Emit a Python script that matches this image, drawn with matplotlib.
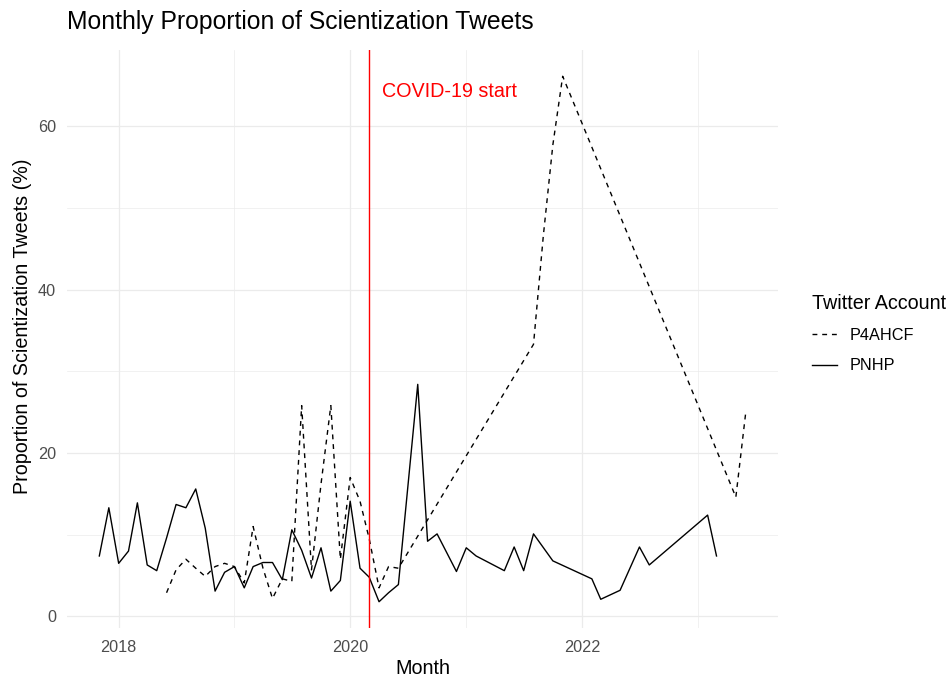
import numpy as np
import pandas as pd
import matplotlib
matplotlib.use("Agg")
import matplotlib.pyplot as plt
import matplotlib.dates as mdates

plt.rcParams['font.family'] = ['Liberation Sans', 'DejaVu Sans']

# monthly proportions
pnhp_months = ["2017-11", "2017-12", "2018-01", "2018-02", "2018-03", "2018-04",
               "2018-05", "2018-06", "2018-07", "2018-08", "2018-09", "2018-10",
               "2018-11", "2018-12", "2019-01", "2019-02", "2019-03", "2019-04",
               "2019-05", "2019-06", "2019-07", "2019-08", "2019-09", "2019-10",
               "2019-11", "2019-12", "2020-01", "2020-02", "2020-03", "2020-04",
               "2020-05", "2020-06", "2020-08", "2020-09", "2020-10", "2020-12",
               "2021-01", "2021-02", "2021-05", "2021-06", "2021-07", "2021-08",
               "2021-10", "2022-02", "2022-03", "2022-05", "2022-07", "2022-08",
               "2023-02", "2023-03"]
pnhp_values = [7.4, 13.3, 6.5, 8.0, 13.9, 6.3,
               5.6, 9.6, 13.7, 13.3, 15.6, 10.8,
               3.1, 5.4, 6.1, 3.5, 6.1, 6.6,
               6.6, 4.5, 10.6, 8.1, 4.7, 8.4,
               3.1, 4.4, 14.1, 5.9, 4.8, 1.8,
               2.9, 3.9, 28.4, 9.2, 10.1, 5.5,
               8.4, 7.4, 5.6, 8.5, 5.6, 10.1,
               6.8, 4.6, 2.1, 3.2, 8.5, 6.3,
               12.4, 7.4]

p4_months = ["2018-06", "2018-07", "2018-08", "2018-09", "2018-10", "2018-11",
             "2018-12", "2019-01", "2019-02", "2019-03", "2019-04", "2019-05",
             "2019-06", "2019-07", "2019-08", "2019-09", "2019-10", "2019-11",
             "2019-12", "2020-01", "2020-02", "2020-03", "2020-04", "2020-05",
             "2020-06", "2021-08", "2021-09", "2021-10", "2021-11", "2023-05",
             "2023-06"]
p4_values = [2.9, 5.7, 7.0, 5.9, 4.9, 6.1,
             6.5, 6.1, 4.1, 11.0, 5.9, 2.2,
             4.6, 4.3, 25.8, 5.7, 16.2, 25.8,
             7.0, 17.0, 14.1, 9.5, 3.5, 6.1,
             5.9, 33.3, 46.6, 57.7, 66.1, 14.6,
             24.9]

covid_start = "2020-03-01"
major_years = ["2018-01-01", "2020-01-01", "2022-01-01"]
minor_years = ["2019-01-01", "2021-01-01", "2023-01-01"]
y_major = [0, 20, 40, 60]
y_minor = [10, 30, 50]

pnhp_x = pd.to_datetime(pnhp_months)
p4_x = pd.to_datetime(p4_months)

W, H = 948, 677
fig = plt.figure(figsize=(W / 100, H / 100), dpi=100)
ax = fig.add_axes([67/W, 1 - 628/H, 711/W, 578/H])

ax.plot(p4_x, p4_values, color='black', lw=1.0, linestyle=(0, (3.5, 3.5)), label='P4AHCF')
ax.plot(pnhp_x, pnhp_values, color='black', lw=1.0, label='PNHP')
ax.axvline(pd.Timestamp(covid_start), color='red', lw=1.0)
ax.text(pd.Timestamp(covid_start) + pd.Timedelta(days=40), 64.2, "COVID-19 start",
        color='red', fontsize=14.2, ha='left', va='center')

# ggplot-like expansion (5% x, 5% y)
all_x = mdates.date2num(list(pnhp_x) + list(p4_x))
xr = all_x.max() - all_x.min()
ax.set_xlim(all_x.min() - 0.05 * xr, all_x.max() + 0.05 * xr)
all_y = np.array(pnhp_values + p4_values)
yr = all_y.max() - all_y.min()
ax.set_ylim(all_y.min() - 0.05 * yr, all_y.max() + 0.05 * yr)

ax.set_xticks(mdates.date2num(pd.to_datetime(major_years)))
ax.set_xticklabels([s[:4] for s in major_years])
ax.set_xticks(mdates.date2num(pd.to_datetime(minor_years)), minor=True)
ax.set_yticks(y_major)
ax.set_yticks(y_minor, minor=True)

ax.grid(which='major', color='#EBEBEB', lw=0.9)
ax.grid(which='minor', color='#EBEBEB', lw=0.5)
ax.set_axisbelow(True)
for s in ax.spines.values():
    s.set_visible(False)
ax.tick_params(which='both', length=0, labelsize=11.7, labelcolor='#4D4D4D')
ax.tick_params(axis='x', pad=9)
ax.tick_params(axis='y', pad=8)

fig.text(422.5/W, 1 - 668/H, "Month", fontsize=14.2, ha='center', va='center')
fig.text(23/W, 1 - 326/H, "Proportion of Scientization Tweets (%)", fontsize=14.2,
         ha='center', va='center', rotation=90)
fig.text(67/W, 1 - 22/H, "Monthly Proportion of Scientization Tweets",
         fontsize=17.8, ha='left', va='center')

leg = ax.legend(loc='upper left', bbox_to_anchor=(797/W, 1 - 279/H),
                bbox_transform=fig.transFigure, frameon=False,
                title="Twitter Account", fontsize=11.7, title_fontsize=14.2,
                handlelength=1.55, handletextpad=0.8, labelspacing=0.95,
                alignment='left')

plt.savefig("out.png", dpi=100)
